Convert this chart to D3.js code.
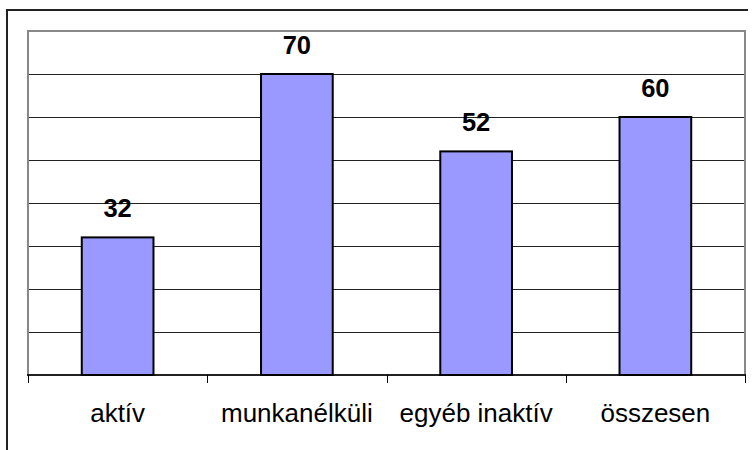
<!DOCTYPE html>
<html>
<head>
<meta charset="utf-8">
<script src="https://cdn.jsdelivr.net/npm/d3@7"></script>
<style>
  body { margin: 0; background: #fff; }
  svg { display: block; font-family: Arial, "Liberation Sans", sans-serif; }
</style>
</head>
<body>
<div id="chart"></div>
<script>
// categories and values
const categories = ["aktív", "munkanélküli", "egyéb inaktív", "összesen"];
const values = [32, 70, 52, 60];
const yTicks = [10, 20, 30, 40, 50, 60, 70];

const width = 753, height = 450;
const plotLeft = 28, plotRight = 745, plotTop = 31, plotBottom = 375;

const svg = d3.select("#chart")
  .append("svg")
  .attr("width", width)
  .attr("height", height);

// outer frame (only top and left edges visible)
svg.append("path")
  .attr("d", `M7,450V10H748`)
  .attr("fill", "none")
  .attr("stroke", "#222")
  .attr("stroke-width", 2);

const x = d3.scaleBand().domain(categories).range([plotLeft, plotRight]).padding(0); // category slots
const y = d3.scaleLinear().domain([0, 80]).range([plotBottom, plotTop]);

// gridlines
svg.append("g")
  .selectAll("line")
  .data(yTicks)
  .join("line")
  .attr("x1", plotLeft)
  .attr("x2", plotRight)
  .attr("y1", d => Math.round(y(d)) + 0.5)
  .attr("y2", d => Math.round(y(d)) + 0.5)
  .attr("stroke", "#222")
  .attr("stroke-width", 1);

// plot frame
svg.append("rect")
  .attr("x", plotLeft)
  .attr("y", plotTop)
  .attr("width", plotRight - plotLeft)
  .attr("height", plotBottom - plotTop)
  .attr("fill", "none")
  .attr("stroke", "#888")
  .attr("stroke-width", 2);

// bars
const barW = x.bandwidth() * 0.4;
svg.append("g")
  .selectAll("rect")
  .data(values)
  .join("rect")
  .attr("x", (d, i) => x(categories[i]) + (x.bandwidth() - barW) / 2)
  .attr("y", d => y(d))
  .attr("width", barW)
  .attr("height", d => plotBottom - y(d))
  .attr("fill", "#9999ff")
  .attr("stroke", "#000")
  .attr("stroke-width", 2);

// value labels
svg.append("g")
  .attr("font-size", 25.5)
  .attr("font-weight", "bold")
  .attr("text-anchor", "middle")
  .selectAll("text")
  .data(values)
  .join("text")
  .attr("x", (d, i) => x(categories[i]) + x.bandwidth() / 2)
  .attr("y", d => y(d) - 20)
  .text(d => d);

// x axis
const xAxis = svg.append("g")
  .attr("transform", `translate(0,${plotBottom})`)
  .call(d3.axisBottom(x).tickSize(0).tickPadding(0));
xAxis.select(".domain").remove();
xAxis.selectAll("text")
  .attr("font-size", 26)
  .attr("font-family", "Arial, 'Liberation Sans', sans-serif")
  .attr("fill", "#000")
  .attr("dy", null)
  .attr("y", 47);

svg.append("line")
  .attr("x1", plotLeft - 1)
  .attr("x2", plotRight + 1)
  .attr("y1", plotBottom)
  .attr("y2", plotBottom)
  .attr("stroke", "#000")
  .attr("stroke-width", 1.5);

// tick marks at slot boundaries
svg.append("g")
  .selectAll("line")
  .data(categories.map(c => x(c)).concat([plotRight]))
  .join("line")
  .attr("x1", d => Math.round(d) + 0.5)
  .attr("x2", d => Math.round(d) + 0.5)
  .attr("y1", plotBottom)
  .attr("y2", plotBottom + 8)
  .attr("stroke", "#000")
  .attr("stroke-width", 1);
</script>
</body>
</html>
